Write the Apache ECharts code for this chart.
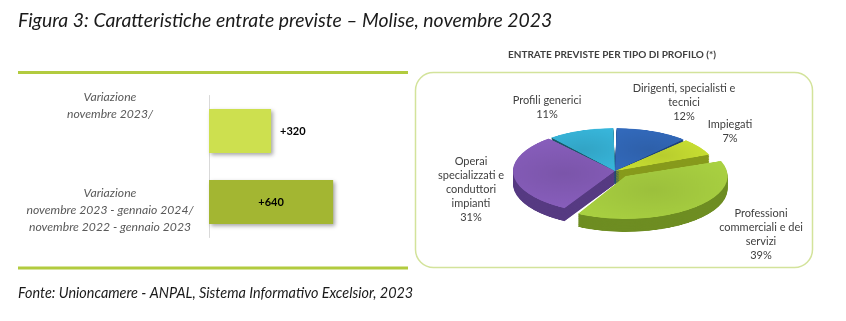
<!DOCTYPE html>
<html>
<head>
<meta charset="utf-8">
<script src="https://cdn.jsdelivr.net/npm/echarts@6/dist/echarts.min.js"></script>
<style>
  html, body { margin:0; padding:0; background:#ffffff; }
  #wrap { position:relative; width:846px; height:321px; overflow:hidden; }
  #main { position:absolute; left:0; top:0; width:846px; height:321px; }
  #pie3d { position:absolute; left:0; top:0; width:846px; height:321px;
           transform-origin: 615px 171px; transform: scaleY(0.42); pointer-events:none; }
</style>
</head>
<body>
<div id="wrap">
  <div id="main"></div>
  <div id="pie3d"></div>
</div>
<script>
// ---------- data ----------
const titleText = 'Figura 3: Caratteristiche entrate previste \u2013 Molise, novembre 2023';
const sourceText = 'Fonte: Unioncamere - ANPAL, Sistema Informativo Excelsior, 2023';
const pieTitle = 'ENTRATE PREVISTE PER TIPO DI PROFILO (*)';

const barCategories = [
  'Variazione\nnovembre 2023/',
  'Variazione\nnovembre 2023 - gennaio 2024/\nnovembre 2022 - gennaio 2023'
];
const barValues = [320, 640];

const pieNames = [
  'Dirigenti, specialisti e\ntecnici',
  'Impiegati',
  'Professioni\ncommerciali e dei\nservizi',
  'Operai\nspecializzati e\nconduttori\nimpianti',
  'Profili generici'
];
const pieValues = [12, 7, 39, 31, 11];

// ---------- styles / layout ----------
const barColors = ['#cde04f', '#a3b632'];
// blank lines added above / below each category label to offset it vertically
const catLabelShift = [[0, 3], [1, 0]];
const pieTop = ['#2e60aa', '#b8cd2e', '#9cc03c', '#7b55aa', '#32a4c5'];
const pieSide = ['#1d427c', '#879a1c', '#6e8d22', '#563a82', '#1a5766'];
const pieLabelPos = [[684, 102], [730, 131], [761, 234], [471, 189], [547, 107]];
const pieCenter = [615, 171];
const pieR = 102;
const scaleK = 0.42;
const thicknessPx = 13;

const FONT = 'Lato, Carlito, "Open Sans", sans-serif';

const main = echarts.init(document.getElementById('main'), null, {renderer:'canvas'});

main.setOption({
  backgroundColor: '#ffffff',
  animation: false,
  graphic: [
    { type:'text', left:18, top:11, style:{ text:titleText, font:'italic 19.4px ' + FONT, fill:'#1a1a1a' } },
    { type:'line', shape:{x1:18, y1:72.5, x2:408, y2:72.5}, style:{stroke:'#b2cb3f', lineWidth:3} },
    { type:'line', shape:{x1:18, y1:268, x2:408, y2:268}, style:{stroke:'#b2cb3f', lineWidth:3} },
    { type:'rect', shape:{x:415.5, y:72.5, width:397, height:195, r:18}, style:{fill:'none', stroke:'#d3e39b', lineWidth:1.5} },
    { type:'text', x:612, y:55, style:{ text:pieTitle, font:'bold 10px ' + FONT, fill:'#404040', align:'center', verticalAlign:'middle' } },
    { type:'text', left:18, top:286, style:{ text:sourceText, font:'italic 14.4px ' + FONT, fill:'#1a1a1a' } }
  ],
  grid: { left:209, top:95.5, width:194, height:142, containLabel:false, outerBoundsMode:'none' },
  xAxis: { type:'value', min:0, max:1000, show:false },
  yAxis: {
    type:'category', inverse:true,
    data: barCategories.map(c => ({ value: c, textStyle: { align:'center' } })),
    axisLine: { show:true, onZero:false, lineStyle:{ color:'#d9d9d9', width:1 } },
    axisTick: { show:false },
    splitLine: { show:false },
    axisLabel: {
      interval:0, hideOverlap:false, align:'center', margin:99,
      color:'#595959', fontStyle:'italic', fontSize:12.2, lineHeight:17, fontFamily:FONT,
      formatter: (v, i) => '\n'.repeat(catLabelShift[i][0]) + v + '\n'.repeat(catLabelShift[i][1])
    }
  },
  series: [
    {
      type:'bar', barWidth:44,
      data: barValues.map((v, i) => ({
        value: v,
        itemStyle: { color: barColors[i] },
        label: { position: i === 0 ? 'right' : 'inside', distance: 9 }
      })),
      itemStyle: { shadowColor:'rgba(0,0,0,0.35)', shadowBlur:4, shadowOffsetX:2, shadowOffsetY:2 },
      label: { show:true, formatter: p => '+' + p.value, color:'#000', fontWeight:'bold', fontSize:11, fontFamily:FONT }
    },
    {
      type:'pie', center:pieCenter, radius:[0, pieR], startAngle:90, clockwise:true, silent:true,
      data: pieValues.map((v, i) => ({ name: pieNames[i], value: v })),
      itemStyle: { color:'rgba(0,0,0,0)' },
      labelLine: { show:false },
      label: { show:true, formatter:'{b}\n{c}%', color:'#404040', fontSize:11, lineHeight:14, fontFamily:FONT, align:'center' },
      labelLayout: p => ({ x: pieLabelPos[p.dataIndex][0], y: pieLabelPos[p.dataIndex][1], align:'center', verticalAlign:'middle' })
    }
  ]
});

// ---------- pseudo-3D pie (vertically squashed) ----------
const pie = echarts.init(document.getElementById('pie3d'), null, {renderer:'canvas'});
function pieLayer(yOff, colors, isTop) {
  return {
    type:'pie', center:[pieCenter[0], pieCenter[1] + yOff], radius:[0, pieR],
    startAngle:90, clockwise:true, silent:true, padAngle:1.8,
    selectedMode:'multiple', selectedOffset:16,
    label:{show:false}, labelLine:{show:false},
    emphasis:{disabled:true},
    data: pieValues.map((v, i) => ({
      name: pieNames[i], value: v, selected: i === 2,
      itemStyle: { color: isTop ? new echarts.graphic.RadialGradient(0.5, 0.5, 0.9, [
        {offset:0, color: colors[i]}, {offset:1, color: echarts.color.lift(colors[i], -0.12)}
      ]) : colors[i], borderWidth:0 }
    }))
  };
}
const layers = [];
const steps = 13;
for (let s = steps; s >= 1; s--) {
  layers.push(pieLayer(s * thicknessPx / steps / scaleK, pieSide, false));
}
layers.push(pieLayer(0, pieTop, true));
pie.setOption({ animation:false, backgroundColor:'transparent', series: layers });
</script>
</body>
</html>
